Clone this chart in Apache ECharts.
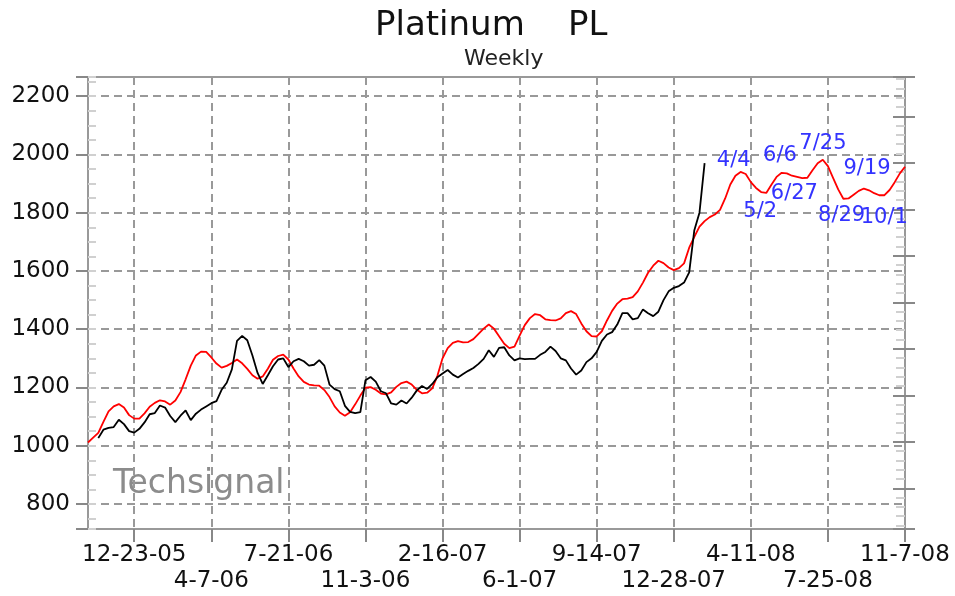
<!DOCTYPE html>
<html><head><meta charset="utf-8">
<script src="https://cdn.jsdelivr.net/npm/echarts@6/dist/echarts.min.js"></script>
<style>html,body{margin:0;padding:0;background:#fff}#c{width:955px;height:596px}</style>
</head><body><div id="c"></div>
<script>
// ---- data ----
const firstWeek = [2005, 10, 21];   // first weekly bar (Friday 10-21-05)
const weekCount = 160;
const redValues = [
1011,1028,1044,1082,1118,1135,1143,1131,1105,1093,
1093,1111,1134,1147,1156,1152,1141,1155,1184,1228,
1275,1310,1323,1322,1303,1282,1268,1274,1284,1296,
1283,1264,1242,1230,1238,1264,1295,1308,1313,1296,
1265,1238,1219,1210,1207,1206,1191,1167,1135,1114,
1103,1115,1142,1172,1199,1201,1192,1179,1176,1183,
1202,1215,1220,1210,1192,1180,1182,1197,1240,1300,
1335,1353,1359,1355,1356,1366,1384,1402,1416,1402,
1376,1350,1335,1340,1378,1414,1438,1452,1448,1434,
1431,1430,1437,1455,1462,1452,1420,1393,1376,1375,
1393,1430,1463,1488,1503,1505,1510,1530,1560,1594,
1618,1635,1627,1612,1603,1610,1626,1680,1717,1752,
1771,1785,1794,1810,1849,1897,1927,1940,1933,1905,
1885,1871,1868,1896,1923,1937,1935,1927,1923,1919,
1920,1946,1970,1982,1960,1920,1880,1848,1849,1862,
1875,1883,1877,1867,1860,1860,1878,1905,1935,1958
];
const blackValues = [
null,null,1026,1055,1061,1064,1089,1074,1050,1045,
1058,1080,1108,1112,1138,1131,1102,1081,1103,1121,
1088,1110,1124,1135,1146,1153,1192,1216,1262,1360,
1377,1362,1310,1250,1212,1242,1273,1296,1300,1270,
1290,1298,1290,1275,1278,1294,1275,1210,1194,1187,
1137,1116,1112,1115,1225,1236,1220,1187,1180,1145,
1141,1155,1145,1165,1190,1205,1195,1212,1235,1248,
1260,1244,1234,1246,1257,1267,1281,1298,1328,1305,
1336,1338,1310,1293,1300,1297,1298,1298,1312,1322,
1340,1325,1300,1293,1265,1244,1258,1287,1300,1322,
1360,1382,1390,1416,1455,1455,1434,1438,1468,1455,
1445,1460,1500,1530,1542,1548,1560,1595,1740,1800,
1970
];
const yTickValues = [800, 1000, 1200, 1400, 1600, 1800, 2000, 2200];
const annotationDates = ['4-4-08','5-2-08','6-6-08','6-27-08','7-25-08','8-29-08','9-19-08','10-3-08'];
const annotationLabels = ['4/4','5/2','6/6','6/27','7/25','8/29','9/19','10/1'];
const firstLabelIndex = 9, labelStep = 15;
// unlabeled right-hand scale (tick marks only)
const rightScaleRange = [-0.875, 8.845];

// ---- styles ----
const annotationOffsets = [[-12,-13],[-6,19],[-12,-20],[-13,16],[-5,-23],[-12,21],[-2,-22],[5,22]];
const FONT = 'DejaVu Sans';

const categories = [];
const t0 = Date.UTC(firstWeek[0], firstWeek[1]-1, firstWeek[2]);
for (let i = 0; i < weekCount; i++) {
  const d = new Date(t0 + i*7*864e5);
  categories.push((d.getUTCMonth()+1) + '-' + d.getUTCDate() + '-' + String(d.getUTCFullYear()).slice(2));
}
const isLabelIdx = (i) => i >= firstLabelIndex && (i - firstLabelIndex) % labelStep === 0;
const labelRow = (i) => ((i - firstLabelIndex) / labelStep) % 2;   // 0 = upper row, 1 = lower row

const tickOnly = {axisLine: {show: false}, axisLabel: {show: false}, splitLine: {show: false}};
const xLabelStyle = {fontFamily: FONT, fontSize: 23, color: '#111', showMinLabel: true, showMaxLabel: true, hideOverlap: false};

const chart = echarts.init(document.getElementById('c'), null, {renderer:'canvas'});
chart.setOption({
  animation: false,
  backgroundColor: '#fff',
  title: [
    {text: 'Platinum    PL', left: 370, top: 4, textStyle:{fontFamily:FONT, fontSize:34, fontWeight:'normal', color:'#111'}},
    {text: 'Weekly', left: 459, top: 43, textStyle:{fontFamily:FONT, fontSize:22, fontWeight:'normal', color:'#222'}}
  ],
  grid: {left: 88, right: 50, top: 77, bottom: 67, show: true, borderColor: '#999', borderWidth: 2, backgroundColor: 'transparent'},
  xAxis: [{
    type: 'category', data: categories, boundaryGap: false,
    axisLine: {show: true, onZero: false, lineStyle: {color: '#999', width: 2}},
    axisTick: {show: true, interval: (i) => isLabelIdx(i), length: 13, lineStyle: {color: '#888', width: 2}},
    axisLabel: Object.assign({interval: (i) => isLabelIdx(i) && labelRow(i) === 0, margin: 15}, xLabelStyle),
    splitLine: {show: true, interval: (i) => isLabelIdx(i), lineStyle: {color: '#999', width: 2, type: [8,5]}}
  }, {
    type: 'category', data: categories, boundaryGap: false, position: 'bottom',
    axisLine: {show: false, onZero: false}, axisTick: {show: false}, splitLine: {show: false},
    axisLabel: Object.assign({interval: (i) => isLabelIdx(i) && labelRow(i) === 1, margin: 41}, xLabelStyle)
  }],
  yAxis: [{
    type: 'value', min: 714, max: 2266, minInterval: 200, maxInterval: 200, splitNumber: 8,
    axisLine: {show: false},
    axisTick: {show: true, inside: false, length: 12, lineStyle: {color: '#888', width: 2}},
    axisLabel: {customValues: yTickValues, showMinLabel: true, showMaxLabel: true, fontFamily: FONT, fontSize: 23, color: '#111', margin: 18,
      formatter: (v) => String(v)},
    splitLine: {show: true, lineStyle: {color: '#999', width: 2, type: [8,5]}}
  }, Object.assign({
    type: 'value', position: 'left', min: 714, max: 2266, minInterval: 50, maxInterval: 50, splitNumber: 31,
    axisTick: {show: true, inside: true, length: 8, lineStyle: {color: '#d0d0d0', width: 2}}
  }, tickOnly), Object.assign({
    type: 'value', position: 'right', min: rightScaleRange[0], max: rightScaleRange[1], minInterval: 1, maxInterval: 1, splitNumber: 9,
    axisTick: {show: true, inside: false, length: 10, lineStyle: {color: '#888', width: 2}}
  }, tickOnly), Object.assign({
    type: 'value', position: 'right', min: rightScaleRange[0], max: rightScaleRange[1], minInterval: 1, maxInterval: 1, splitNumber: 9,
    axisTick: {show: true, inside: true, length: 12, lineStyle: {color: '#888', width: 2}},
    minorTick: {show: true, splitNumber: 5, length: 9, lineStyle: {color: '#d0d0d0', width: 2}}
  }, tickOnly)],
  graphic: [{
    type: 'text', left: 113, top: 468, silent: true,
    style: {text: 'Techsignal', fontFamily: FONT, fontSize: 33, fill: '#8c8c8c'}
  }],
  series: [{
    name: 'Projection', type: 'line', data: redValues, symbol: 'none',
    lineStyle: {color: '#ff0000', width: 1.8}, z: 3,
    markPoint: {
      symbol: 'circle', symbolSize: 0, silent: true,
      label: {show: true, color: '#3333ff', fontFamily: FONT, fontSize: 21},
      data: annotationDates.map((d, i) => ({
        coord: [d, redValues[categories.indexOf(d)]],
        value: annotationLabels[i],
        label: {formatter: annotationLabels[i], offset: annotationOffsets[i]}
      }))
    }
  }, {
    name: 'Platinum', type: 'line', data: blackValues, symbol: 'none', connectNulls: false,
    lineStyle: {color: '#000', width: 1.8}, z: 4
  }]
});
</script></body></html>
